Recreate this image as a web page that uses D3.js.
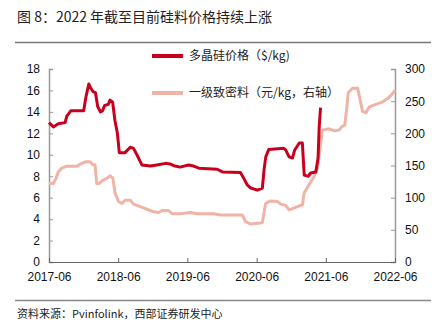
<!DOCTYPE html>
<html><head><meta charset="utf-8">
<script src="https://cdn.jsdelivr.net/npm/d3@7"></script>
<style>html,body{margin:0;padding:0;background:#fff;}svg{display:block;}</style>
</head><body>
<svg id="c" width="448" height="327"></svg>
<script>
const titleText = "图 8：2022 年截至目前硅料价格持续上涨";
const sourceText = "资料来源：Pvinfolink，西部证券研发中心";
const seriesNames = ["多晶硅价格（$/kg)", "一级致密料（元/kg，右轴）"];
const xTickLabels = ["2017-06","2018-06","2019-06","2020-06","2021-06","2022-06"];
const leftTicks = [0,2,4,6,8,10,12,14,16,18];
const rightTicks = [0,50,100,150,200,250,300];

const polyDates = ["2017-06-01","2017-06-24","2017-07-20","2017-08-25","2017-09-03","2017-09-24","2017-12-01","2017-12-13","2017-12-28","2018-01-08","2018-01-19","2018-02-01","2018-02-13","2018-02-27","2018-03-10","2018-03-22","2018-04-10","2018-04-19","2018-05-03","2018-05-15","2018-05-28","2018-06-07","2018-07-07","2018-08-04","2018-08-21","2018-09-08","2018-09-22","2018-10-04","2018-11-18","2018-12-22","2019-02-06","2019-03-01","2019-03-28","2019-04-24","2019-06-07","2019-07-04","2019-08-01","2019-11-06","2019-12-03","2020-03-07","2020-03-25","2020-04-12","2020-05-01","2020-06-04","2020-07-01","2020-07-10","2020-07-19","2020-08-04","2020-10-22","2020-11-01","2020-11-19","2020-12-07","2020-12-19","2021-01-12","2021-01-28","2021-02-07","2021-02-28","2021-03-13","2021-04-09","2021-04-21","2021-04-27","2021-05-04"];
const polyValues = [13.0,12.6,12.9,13.0,13.6,14.1,14.1,15.4,16.6,16.2,15.9,15.8,14.5,14.0,14.1,14.6,14.7,15.1,14.9,13.2,12.0,10.2,10.2,10.7,10.6,10.0,9.5,9.05,8.95,9.05,9.2,9.15,8.95,8.85,9.05,8.95,8.75,8.65,8.4,8.35,7.8,7.2,6.9,6.7,6.9,8.6,9.8,10.5,10.6,10.45,9.8,9.7,10.45,11.1,11.1,8.1,8.0,8.3,8.4,9.7,12.6,14.4];

const denseDates = ["2017-06-01","2017-06-24","2017-07-08","2017-07-20","2017-08-07","2017-09-03","2017-10-26","2017-11-12","2017-12-14","2018-01-04","2018-01-18","2018-01-30","2018-02-08","2018-02-22","2018-03-07","2018-04-02","2018-04-20","2018-05-04","2018-05-16","2018-06-03","2018-06-21","2018-07-08","2018-08-04","2018-08-21","2018-09-26","2018-10-31","2018-12-05","2019-01-01","2019-01-19","2019-02-22","2019-03-12","2019-04-25","2019-06-17","2019-07-23","2019-10-19","2019-11-23","2020-03-17","2020-04-03","2020-04-30","2020-07-01","2020-07-18","2020-08-10","2020-09-18","2020-10-06","2020-11-01","2020-11-19","2020-12-07","2021-01-02","2021-01-29","2021-02-06","2021-03-04","2021-03-31","2021-04-18","2021-05-02","2021-05-14","2021-06-18","2021-07-15","2021-08-10","2021-08-23","2021-09-09","2021-09-20","2021-09-27","2021-10-20","2021-11-16","2021-11-29","2021-12-12","2021-12-30","2022-01-16","2022-02-20","2022-03-28","2022-04-23","2022-05-20","2022-06-01"];
const denseValues = [122,122,130,140,146,149,149,152,156,156,151,151,122,122,126,130,134,130,107,94,91,96,96,90,86,82,78,77,80,80,75,75,77,75,75,73,73,63,59,61,91,95,94,90,88,81,83,86,89,107,120,133,146,179,205,207,204,205,210,213,241,263,270,270,252,234,232,241,245,249,254,262,267];

const W = 448, H = 327;
const m = {l:49, r:395, t:69, b:262};
const parse = d3.timeParse("%Y-%m-%d");
const svg = d3.select("#c");
const font = "'Liberation Sans', Arial, sans-serif";
const cjk = "'Noto Sans CJK SC', sans-serif";

const x = d3.scaleTime().domain([parse("2017-06-01"), parse("2022-06-01")]).range([m.l, m.r]);
const yL = d3.scaleLinear().domain([0,18]).range([m.b, m.t]);
const yR = d3.scaleLinear().domain([0,300]).range([m.b, m.t]);

// title
svg.append("text").attr("x",17).attr("y",22).attr("font-family",cjk).attr("font-size",14).attr("fill","#222").text(titleText);
svg.append("line").attr("x1",15).attr("x2",431).attr("y1",42.5).attr("y2",42.5).attr("stroke","#777").attr("stroke-width",1.5);
// source
svg.append("line").attr("x1",15).attr("x2",431).attr("y1",300.5).attr("y2",300.5).attr("stroke","#888").attr("stroke-width",1.5);
svg.append("text").attr("x",17).attr("y",318).attr("font-family",cjk).attr("font-size",11).attr("fill","#222").text(sourceText);

const axisColor = "#999";
// left axis
const gl = svg.append("g").attr("transform",`translate(${m.l},0)`)
  .call(d3.axisRight(yL).tickValues(leftTicks).tickSize(4).tickFormat(d3.format("d")));
gl.select(".domain").attr("stroke",axisColor).attr("stroke-width",1.5);
gl.selectAll(".tick line").attr("stroke",axisColor);
gl.selectAll(".tick text").attr("x",-9).attr("text-anchor","end").attr("font-family",font).attr("font-size",12).attr("fill","#111");
// right axis
const gr = svg.append("g").attr("transform",`translate(${m.r},0)`)
  .call(d3.axisLeft(yR).tickValues(rightTicks).tickSize(4).tickFormat(d3.format("d")));
gr.select(".domain").attr("stroke",axisColor).attr("stroke-width",1.5);
gr.selectAll(".tick line").attr("stroke",axisColor);
gr.selectAll(".tick text").attr("x",10).attr("text-anchor","start").attr("font-family",font).attr("font-size",12).attr("fill","#111");
// bottom axis
const xTickDates = xTickLabels.map(s => parse(s + "-01"));
const gb = svg.append("g").attr("transform",`translate(0,${m.b})`)
  .call(d3.axisTop(x).tickValues(xTickDates).tickSize(4).tickFormat((d,i)=>xTickLabels[i]));
gb.select(".domain").attr("stroke","#666").attr("stroke-width",1);
gb.selectAll(".tick line").attr("stroke","#666");
gb.selectAll(".tick text").attr("y",10).attr("dy","0.71em").attr("font-family",font).attr("font-size",12).attr("fill","#111");

const redC = "#C8001E", pinkC = "#F0B4A6";
const dense = denseDates.map((d,i)=>({d:parse(d), v:denseValues[i]}));
const poly = polyDates.map((d,i)=>({d:parse(d), v:polyValues[i]}));
svg.append("path").datum(dense).attr("fill","none").attr("stroke",pinkC).attr("stroke-width",3).attr("stroke-linejoin","round")
  .attr("d", d3.line().x(d=>x(d.d)).y(d=>yR(d.v)));
svg.append("path").datum(poly).attr("fill","none").attr("stroke",redC).attr("stroke-width",3).attr("stroke-linejoin","round")
  .attr("d", d3.line().x(d=>x(d.d)).y(d=>yL(d.v)));

// legend
const leg = [{c:redC, y:56, t:seriesNames[0]},{c:pinkC, y:93, t:seriesNames[1]}];
leg.forEach(l=>{
  svg.append("line").attr("x1",152).attr("x2",183).attr("y1",l.y).attr("y2",l.y).attr("stroke",l.c).attr("stroke-width",4);
  svg.append("text").attr("x",189).attr("y",l.y).attr("dy","0.35em").attr("font-family",cjk).attr("font-size",12).attr("fill","#222").text(l.t);
});
</script>
</body></html>
